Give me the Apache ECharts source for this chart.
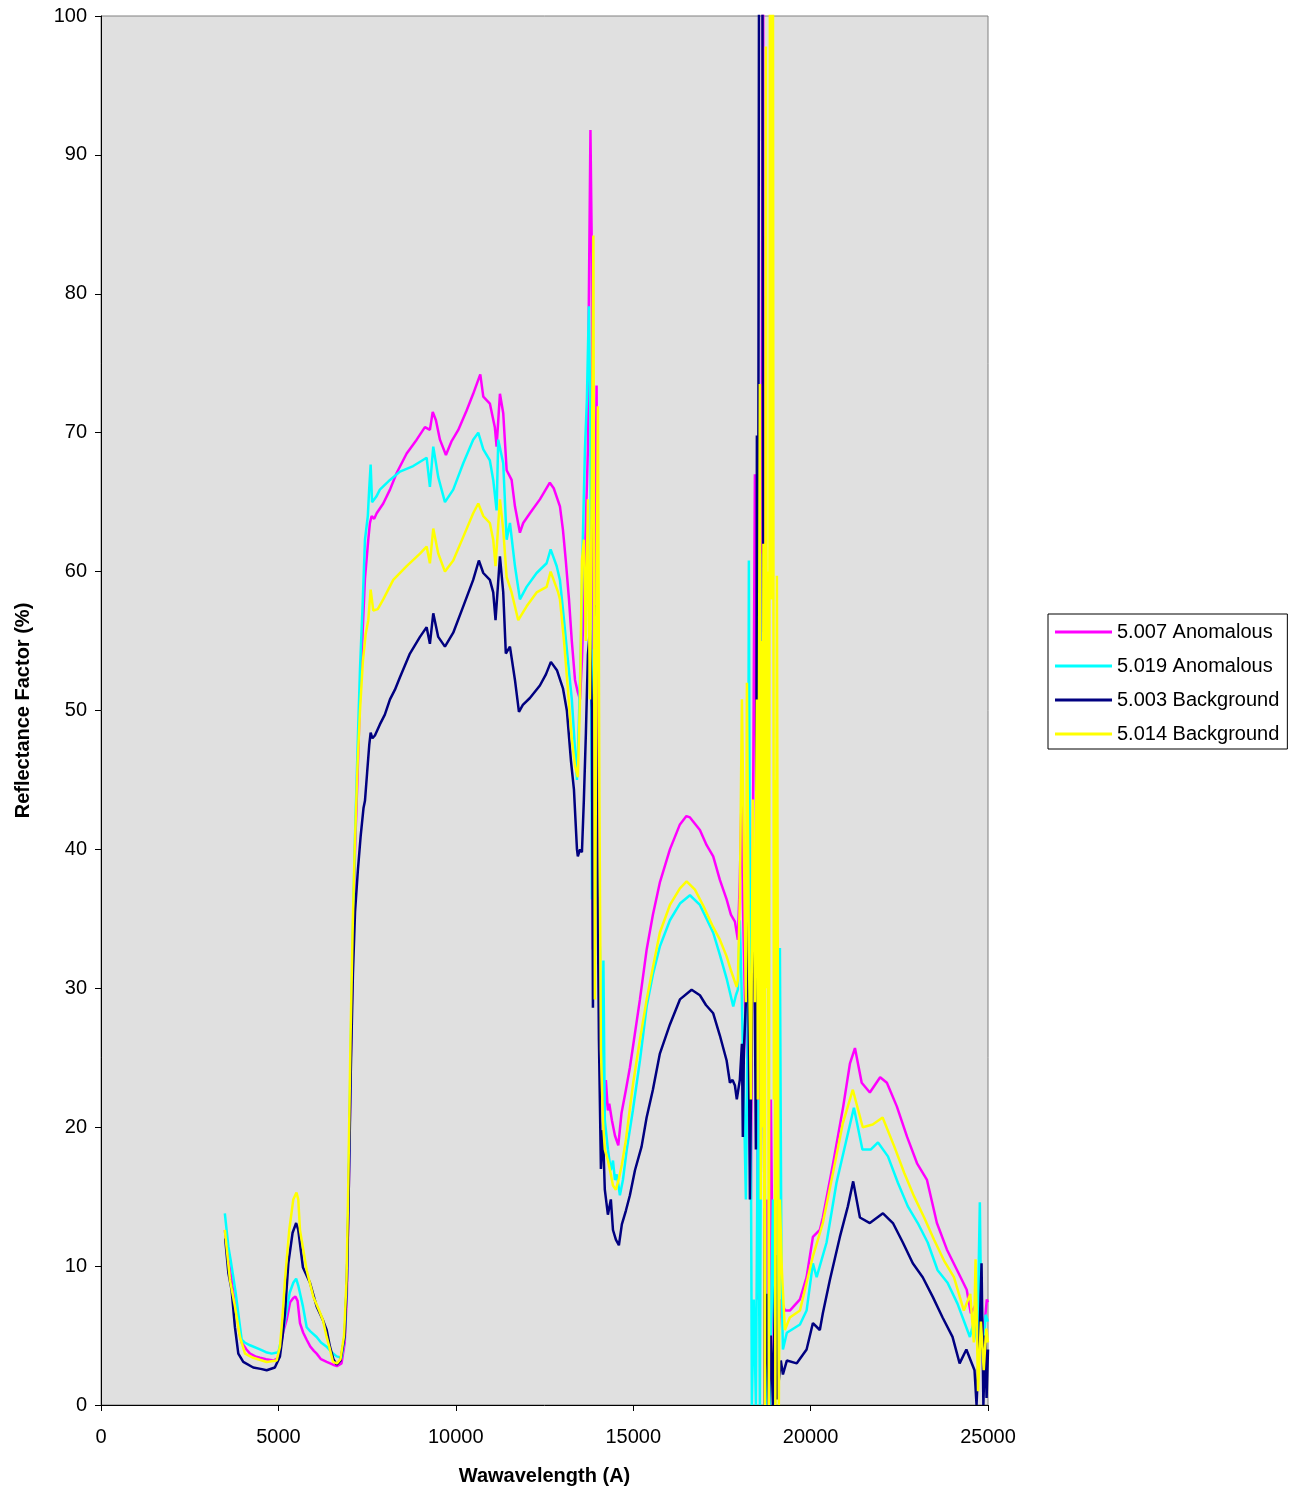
<!DOCTYPE html>
<html>
<head>
<meta charset="utf-8">
<script src="https://cdn.jsdelivr.net/npm/echarts@6/dist/echarts.min.js"></script>
<style>
  html, body { margin: 0; padding: 0; background: #fff; }
  #chart { width: 1295px; height: 1494px; }
</style>
</head>
<body>
<div id="chart"></div>
<script>
// wavelength (A), reflectance (%) pairs
var anom5007 = [
  [3490,12.6],[3590,10.5],[3680,9.0],[3760,7.5],[3825,6.6],[3900,5.2],[3965,4.5],[4100,4.0],[4200,3.7],[4350,3.5],
  [4480,3.4],[4650,3.3],[4860,3.2],[5000,3.4],[5060,4.2],[5140,5.3],[5230,6.1],[5330,7.4],[5420,7.7],[5480,7.8],
  [5540,7.5],[5608,5.9],[5700,5.2],[5797,4.7],[5900,4.2],[6000,3.9],[6078,3.7],[6200,3.3],[6360,3.1],[6540,2.9],
  [6650,2.8],[6780,3.0],[6870,4.5],[6930,8],[6980,15],[7040,25],[7100,33],[7160,40],[7240,46],[7300,51],
  [7380,56],[7440,59.5],[7533,62.3],[7580,63.5],[7628,64.0],[7700,63.8],[7770,64.2],[7955,64.9],[8145,65.9],[8333,67.1],
  [8615,68.5],[8897,69.5],[9130,70.4],[9270,70.2],[9350,71.5],[9440,70.9],[9553,69.5],[9722,68.4],[9883,69.4],[10070,70.2],
  [10305,71.6],[10490,72.8],[10633,73.8],[10690,74.2],[10775,72.6],[10960,72.1],[11100,70.4],[11150,69.0],[11244,72.8],[11337,71.4],
  [11433,67.3],[11573,66.6],[11667,64.7],[11807,62.8],[11900,63.5],[12089,64.2],[12370,65.2],[12650,66.4],[12760,66.0],[12935,64.7],
  [13020,63.0],[13100,60.8],[13190,58.0],[13270,55.0],[13360,52.2],[13440,51.3],[13500,50.8],[13555,53.6],[13610,58.0],[13667,63.7],
  [13723,68.8],[13750,79.6],[13795,91.8],[13836,82.4],[13865,32.8],[13893,50.8],[13968,73.4],[14005,43.6],[14062,29.2],[14118,25.6],
  [14175,19.8],[14230,23.4],[14287,21.2],[14325,21.7],[14400,20.5],[14485,19.4],[14580,18.7],[14670,21.0],[14795,22.7],[14907,24.3],
  [15190,29.2],[15380,32.8],[15555,35.3],[15750,37.6],[16035,40.0],[16317,41.8],[16500,42.4],[16600,42.3],[16880,41.4],[17070,40.3],
  [17255,39.5],[17443,37.8],[17633,36.4],[17753,35.3],[17867,34.8],[17950,33.5],[18005,37.8],[18064,45.0],[18090,36.4],[18150,29.0],
  [18205,25.5],[18260,22.0],[18317,14.8],[18373,40.0],[18430,67.0],[18458,50.8],[18514,7.6],[18570,29.0],[18626,72.4],[18660,110],
  [18700,110],[18711,0],[18768,14.8],[18824,0],[18880,22.0],[18937,7.6],[18993,0],[19050,14.8],[19105,5.4],[19160,7.6],
  [19275,6.8],[19415,6.8],[19700,7.6],[19887,9.2],[20065,12.1],[20260,12.6],[20345,13.5],[20635,17.4],[20920,21.5],[21110,24.6],
  [21250,25.7],[21440,23.2],[21670,22.5],[21960,23.6],[22150,23.2],[22430,21.5],[22720,19.3],[23000,17.4],[23280,16.2],[23560,13.1],
  [23840,11.2],[24130,9.7],[24400,8.3],[24515,6.6],[24630,7.1],[24770,8.3],[24870,4.9],[24967,7.6],[25000,7.4]
];
var anom5019 = [
  [3490,13.8],[3590,11.4],[3650,10.5],[3730,9.2],[3800,8.0],[3870,6.6],[3965,4.7],[4050,4.5],[4200,4.3],[4480,4.0],
  [4650,3.8],[4810,3.7],[5000,3.8],[5044,4.3],[5120,5.2],[5185,6.1],[5320,8.1],[5420,8.8],[5500,9.1],[5560,8.6],
  [5692,7.1],[5797,5.6],[5900,5.3],[6078,4.9],[6200,4.5],[6360,4.2],[6500,3.8],[6642,3.5],[6780,3.4],[6870,5],
  [6930,9],[6980,16],[7040,26],[7100,34],[7160,41],[7240,48],[7300,53],[7380,58],[7440,62.3],[7520,64],
  [7560,66],[7600,67.7],[7640,65],[7674,64.9],[7760,65.4],[7860,65.9],[8145,66.6],[8426,67.2],[8800,67.6],[9178,68.2],
  [9270,66.1],[9365,69.0],[9505,66.8],[9694,65.0],[9928,65.9],[10210,67.8],[10490,69.5],[10633,70.0],[10775,68.8],[10960,68.0],
  [11055,66.6],[11150,64.4],[11196,69.5],[11337,67.8],[11433,62.3],[11526,63.5],[11667,60.4],[11807,58.0],[11996,58.9],[12278,59.9],
  [12560,60.6],[12673,61.6],[12842,60.4],[12935,59.4],[13050,56.5],[13160,53.6],[13270,50.8],[13360,47.2],[13415,45.0],[13470,49.3],
  [13530,55.0],[13580,62.3],[13640,68.8],[13695,72.4],[13750,79.1],[13795,70.6],[13836,36.4],[13893,54.4],[13950,43.6],[14005,36.4],
  [14062,32.8],[14118,22.0],[14160,32.0],[14200,20.5],[14287,18.4],[14370,16.9],[14430,17.6],[14485,16.2],[14540,16.6],[14625,15.1],
  [14710,16.2],[14820,18.4],[14990,21.2],[15190,24.8],[15380,28.7],[15555,31.0],[15750,33.0],[16035,34.9],[16317,36.1],[16600,36.7],
  [16880,36.0],[17070,35.0],[17255,34.0],[17443,32.4],[17633,30.7],[17820,28.7],[17895,29.5],[17950,29.9],[18005,34.9],[18064,29.0],
  [18120,22.0],[18176,14.8],[18232,29.0],[18260,60.8],[18290,36.4],[18345,0],[18400,7.6],[18458,0],[18514,22.0],[18570,0],
  [18655,61.3],[18683,29.0],[18740,0],[18795,7.6],[18852,0],[18937,14.8],[18993,0],[19078,7.6],[19135,32.9],[19180,9.0],
  [19220,4.0],[19330,5.2],[19700,5.8],[19887,6.8],[20065,10.2],[20170,9.2],[20450,11.7],[20730,16.0],[21010,19.1],[21220,21.4],
  [21460,18.4],[21700,18.4],[21900,18.9],[22180,17.9],[22460,16.0],[22740,14.3],[23020,13.1],[23300,11.7],[23580,9.7],[23860,8.8],
  [24140,7.3],[24490,4.9],[24600,6.0],[24700,4.5],[24770,14.6],[24810,6.0],[24870,3.0],[24930,6.5],[25000,6.0]
];
var bg5003 = [
  [3500,12.0],[3590,9.5],[3680,8.3],[3775,5.6],[3870,3.7],[4010,3.1],[4290,2.7],[4500,2.6],[4670,2.5],[4900,2.7],
  [5044,3.5],[5120,5.0],[5185,6.6],[5280,10.2],[5400,12.4],[5500,13.1],[5560,12.6],[5692,9.9],[5890,8.8],[6078,7.1],
  [6256,6.1],[6360,5.4],[6453,4.2],[6550,3.3],[6642,2.9],[6750,3.2],[6870,5],[6930,9],[6980,15],[7040,24],
  [7100,31],[7160,35.5],[7240,38.5],[7320,41],[7400,43],[7440,43.5],[7500,45.5],[7560,47.5],[7600,48.4],[7650,48],
  [7720,48.2],[7860,49],[8000,49.7],[8145,50.8],[8285,51.5],[8426,52.4],[8707,54.1],[8990,55.3],[9178,56.0],[9270,54.8],
  [9365,57.0],[9505,55.3],[9694,54.6],[9928,55.6],[10210,57.5],[10490,59.4],[10650,60.8],[10775,59.9],[10960,59.4],[11055,58.5],
  [11120,56.5],[11244,61.1],[11337,58.5],[11410,54.1],[11526,54.6],[11667,52.2],[11780,49.9],[11890,50.4],[12089,50.9],[12370,51.8],
  [12540,52.6],[12680,53.5],[12850,52.9],[13020,51.6],[13130,50.0],[13245,46.4],[13330,44.3],[13415,40.0],[13440,39.5],[13500,40.0],
  [13555,39.8],[13610,43.6],[13667,48.4],[13723,54.0],[13780,55.8],[13836,50.0],[13865,28.6],[13920,57.6],[13977,43.6],[14034,26.3],
  [14090,17.0],[14146,19.8],[14200,15.5],[14287,13.7],[14370,14.8],[14430,12.6],[14512,11.9],[14597,11.5],[14680,13.0],[14795,14.0],
  [14907,15.1],[15050,16.9],[15236,18.6],[15378,20.7],[15555,22.7],[15752,25.3],[16035,27.4],[16317,29.2],[16646,29.9],[16880,29.5],
  [17050,28.8],[17255,28.2],[17443,26.6],[17633,24.8],[17726,23.2],[17800,23.4],[17867,23.0],[17920,22.0],[18005,23.4],[18064,26.0],
  [18090,19.3],[18120,25.6],[18176,29.0],[18232,36.0],[18290,14.8],[18345,29.0],[18400,39.0],[18458,18.4],[18486,69.8],[18514,43.6],
  [18550,110],[18640,110],[18670,37.8],[18711,0],[18768,8],[18824,0],[18880,5],[18937,0],[19020,10.8],[19050,0.4],
  [19105,1.8],[19160,3.2],[19220,2.2],[19330,3.2],[19610,3.0],[19887,4.0],[20065,5.9],[20260,5.4],[20345,6.6],[20543,9.0],
  [20825,12.1],[21050,14.3],[21200,16.1],[21390,13.5],[21670,13.1],[22040,13.8],[22320,13.1],[22600,11.7],[22880,10.2],[23160,9.2],
  [23440,7.8],[23720,6.3],[24000,4.9],[24200,3.0],[24390,4.0],[24620,2.5],[24677,0],[24760,5],[24818,10.2],[24870,0],
  [24920,5],[24960,0.5],[25000,4.0]
];
var bg5014 = [
  [3490,12.6],[3635,9.0],[3775,7.1],[3915,4.9],[4060,3.7],[4290,3.4],[4670,3.1],[4950,3.2],[5044,4.2],[5120,6.5],
  [5185,9.0],[5306,12.6],[5420,14.8],[5510,15.3],[5560,14.8],[5608,12.6],[5797,9.7],[5983,7.8],[6150,6.8],[6256,6.1],
  [6360,4.9],[6453,4.0],[6540,3.1],[6650,3.0],[6750,3.3],[6850,5],[6920,9],[6970,16],[7030,26],[7090,34],
  [7150,40],[7230,46],[7300,50],[7380,53.5],[7460,55.5],[7533,56.5],[7600,58.7],[7674,57.2],[7800,57.3],[7955,58.0],
  [8237,59.4],[8615,60.4],[8990,61.3],[9178,61.8],[9270,60.6],[9365,63.1],[9505,61.3],[9694,60.0],[9928,60.8],[10210,62.5],
  [10490,64.2],[10633,64.9],[10775,64.0],[10960,63.5],[11055,62.3],[11120,60.4],[11244,65.2],[11337,63.0],[11433,59.6],[11573,58.5],
  [11760,56.5],[11996,57.5],[12278,58.5],[12560,58.9],[12673,60.0],[12885,58.5],[12935,58.0],[13050,55.0],[13160,51.5],[13270,47.9],
  [13360,46.0],[13440,45.2],[13500,50.8],[13555,60.8],[13610,62.3],[13667,55.0],[13723,65.2],[13780,50.8],[13836,67.3],[13878,84.2],
  [13920,29.2],[13977,60.8],[14005,71.9],[14048,43.6],[14090,25.6],[14146,20.5],[14200,18.4],[14287,17.6],[14370,16.6],[14430,15.8],
  [14512,15.5],[14597,16.3],[14680,17.3],[14795,19.1],[15000,23.2],[15190,26.3],[15380,29.2],[15555,31.5],[15750,34.0],[16035,36.0],
  [16317,37.2],[16505,37.7],[16740,37.1],[16965,36.0],[17255,34.4],[17443,33.5],[17633,32.3],[17753,31.3],[17915,30.1],[17950,30.6],
  [18005,36.4],[18064,50.8],[18120,40.0],[18176,29.0],[18205,52.0],[18260,32.8],[18317,22.0],[18373,43.6],[18430,29.0],[18486,50.8],
  [18514,22.0],[18570,73.5],[18598,14.8],[18612,55.0],[18626,20.0],[18640,48.0],[18655,36.4],[18670,62.0],[18690,18.0],[18711,0],
  [18740,97.8],[18768,30.0],[18780,60.0],[18795,43.6],[18810,25.0],[18824,0],[18855,110],[18880,110],[18908,58.0],[18937,110],
  [18950,110],[18965,22.0],[18985,45.0],[19007,0],[19050,59.7],[19078,29.0],[19105,0],[19135,14.8],[19190,9.7],[19275,5.4],
  [19415,6.3],[19700,6.8],[19887,8.8],[20065,10.7],[20345,13.1],[20630,16.7],[20910,20.3],[21190,22.7],[21470,20.0],[21750,20.2],
  [22030,20.7],[22360,18.6],[22640,16.7],[22920,15.0],[23200,13.5],[23480,11.9],[23760,10.4],[24040,9.2],[24320,6.8],[24500,8.0],
  [24600,4.5],[24650,10.5],[24720,1.0],[24800,6.0],[24880,2.5],[24950,5.5],[25000,4.5]
];

var seriesNames = ['5.007 Anomalous', '5.019 Anomalous', '5.003 Background', '5.014 Background'];
var seriesColors = ['#ff00ff', '#00ffff', '#000080', '#ffff00'];
var seriesData = [anom5007, anom5019, bg5003, bg5014];

var FONT = '"Liberation Sans", Arial, sans-serif';

var chart = echarts.init(document.getElementById('chart'));
chart.setOption({
  animation: false,
  backgroundColor: '#ffffff',
  grid: {
    left: 101, top: 16, width: 887, height: 1389,
    show: true, backgroundColor: '#e0e0e0', borderColor: '#808080', borderWidth: 1
  },
  legend: {
    data: seriesNames,
    orient: 'vertical',
    left: 1048, top: 614,
    padding: [8, 8, 5, 7],
    icon: 'rect',
    itemWidth: 57, itemHeight: 3, itemGap: 14,
    backgroundColor: '#ffffff', borderColor: '#000000', borderWidth: 1,
    textStyle: { color: '#000', fontSize: 20, fontFamily: FONT, lineHeight: 20 }
  },
  xAxis: {
    type: 'value', min: 0, max: 25000, interval: 5000,
    name: 'Wawavelength (A)', nameLocation: 'middle', nameGap: 61,
    nameTextStyle: { color: '#000', fontSize: 20, fontWeight: 'bold', fontFamily: FONT },
    axisLine: { show: true, onZero: false, lineStyle: { color: '#000', width: 1 } },
    axisTick: { show: true, inside: false, length: 6, lineStyle: { color: '#000' } },
    axisLabel: {
      color: '#000', fontSize: 20, fontFamily: FONT, margin: 22,
      formatter: function (v) { return String(v); }
    },
    splitLine: { show: false }
  },
  yAxis: {
    type: 'value', min: 0, max: 100, interval: 10,
    name: 'Reflectance Factor (%)', nameLocation: 'middle', nameGap: 68,
    nameTextStyle: { color: '#000', fontSize: 20, fontWeight: 'bold', fontFamily: FONT },
    axisLine: { show: true, onZero: false, lineStyle: { color: '#000', width: 1 } },
    axisTick: { show: true, inside: false, length: 6, lineStyle: { color: '#000' } },
    axisLabel: { color: '#000', fontSize: 20, fontFamily: FONT, margin: 14 },
    splitLine: { show: false }
  },
  series: seriesData.map(function (d, i) {
    return {
      name: seriesNames[i],
      type: 'line',
      data: d,
      symbol: 'none',
      showSymbol: false,
      clip: true,
      color: seriesColors[i],
      lineStyle: { color: seriesColors[i], width: 2.5 }
    };
  })
});
</script>
</body>
</html>
